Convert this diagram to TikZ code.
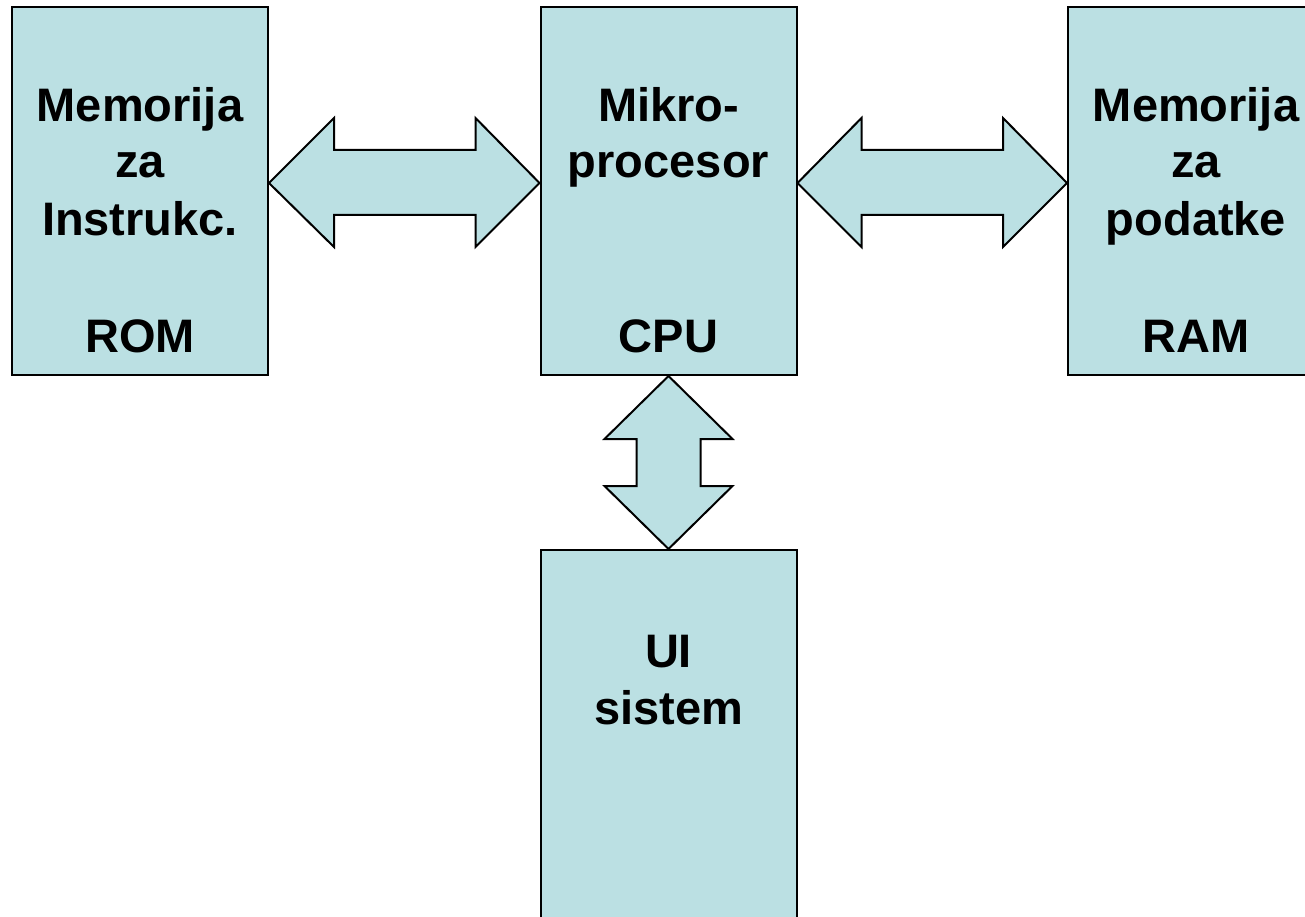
\documentclass[tikz,border=0pt]{standalone}
\usepackage{fontspec}
\setmainfont{Liberation Sans}
\usetikzlibrary{calc}
\definecolor{boxfill}{HTML}{BBE0E3}
\begin{document}
\begin{tikzpicture}[x=1pt,y=-1pt,
  blockbox/.style={draw=black,line width=2pt,fill=boxfill,minimum width=256pt,minimum height=368pt,inner sep=0pt},
  lbl/.style={anchor=base,inner sep=0pt,font=\fontsize{47}{57}\selectfont\bfseries},
  busarrow/.style={draw=black,line width=2pt,fill=boxfill,line join=miter}]
\useasboundingbox (0,0) rectangle (1305,917);
\clip (0,0) rectangle (1305,917);
\fill[white] (0,0) rectangle (1305,917);
% blocks
\node[blockbox] (rom) at (140,191) {};
\node[blockbox] (cpu) at (668.5,191) {};
\node[blockbox] (ram) at (1196,191) {};
\node[blockbox] (ui) at (668.5,734) {};
% labels
\node[lbl] (rom1) at (140,122) {Memorija};
\node[lbl] (rom2) at (140,178) {za};
\node[lbl] (rom3) at (140,236) {Instrukc.};
\node[lbl] (rom4) at (140,352) {ROM};
\node[lbl] (cpu1) at (668.5,122) {Mikro-};
\node[lbl] (cpu2) at (668.5,178) {procesor};
\node[lbl] (cpu3) at (668.5,352) {CPU};
\node[lbl] (ram1) at (1196,122) {Memorija};
\node[lbl] (ram2) at (1196,178) {za};
\node[lbl] (ram3) at (1196,236) {podatke};
\node[lbl] (ram4) at (1196,352) {RAM};
\node[lbl] (ui1) at (668.5,667) {UI};
\node[lbl] (ui2) at (668.5,724) {sistem};
% bus arrows
\coordinate (a1) at ($(rom.east)+(0,-8)$);
\coordinate (a2) at ($(cpu.west)+(0,-8)$);
\coordinate (b1) at ($(cpu.east)+(0,-8)$);
\coordinate (b2) at ($(ram.west)+(0,-8)$);
\draw[busarrow] (a1) -- ++(65,-65) -- ++(0,32) -- ($(a2)+(-64,-33)$) -- ++(0,-32) -- (a2)
  -- ++(-64,64) -- ++(0,-32) -- ($(a1)+(65,32)$) -- ++(0,32) -- cycle;
\draw[busarrow] (b1) -- ++(64,-65) -- ++(0,32) -- ($(b2)+(-64,-33)$) -- ++(0,-32) -- (b2)
  -- ++(-64,64) -- ++(0,-32) -- ($(b1)+(64,32)$) -- ++(0,32) -- cycle;
\draw[busarrow] (cpu.south) -- ++(-64,63) -- ++(32,0) -- ($(ui.north)+(-32,-63)$) -- ++(-32,0) -- (ui.north)
  -- ++(64,-63) -- ++(-32,0) -- ($(cpu.south)+(32,63)$) -- ++(32,0) -- cycle;
\end{tikzpicture}
\end{document}
